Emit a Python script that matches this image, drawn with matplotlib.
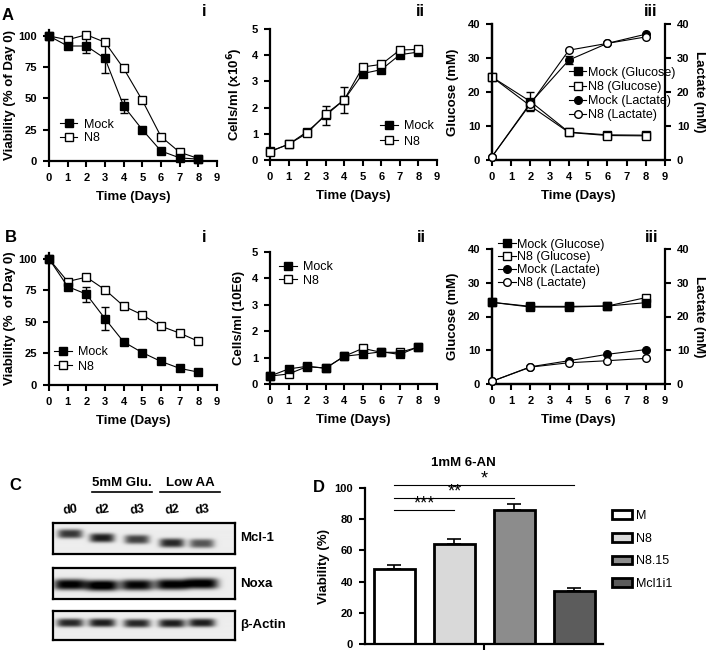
import numpy as np
import matplotlib
matplotlib.use("Agg")
import matplotlib.pyplot as plt
from matplotlib.lines import Line2D

plt.rcParams['font.family'] = ['Liberation Sans', 'DejaVu Sans']

W, H = 710, 652

# ---- data ----
days = [0, 1, 2, 3, 4, 5, 6, 7, 8]
days_met = [0, 2, 4, 6, 8]

# A i - viability
a_via_mock = [100, 92, 92, 82, 44, 25, 8, 2.5, 1.5]
a_via_mock_err = [0, 1.5, 6, 12, 5.5, 0, 0, 0, 0]
a_via_n8 = [100, 97, 101, 95, 74, 48.5, 19.5, 7, 2]
# A ii - cell density
a_cells_mock = [0.33, 0.6, 1.08, 1.7, 2.3, 3.3, 3.45, 4.02, 4.12]
a_cells_mock_err = [0, 0, 0, 0.35, 0.5, 0, 0, 0, 0]
a_cells_n8 = [0.32, 0.6, 1.02, 1.75, 2.3, 3.55, 3.65, 4.2, 4.22]
# A iii - metabolites
a_glc_mock = [24.4, 17.2, 8.2, 7.4, 7.3]
a_glc_mock_err = [0, 2.8, 0, 0, 0]
a_glc_n8 = [24.4, 15.9, 8.1, 7.2, 7.1]
a_lac_mock = [1, 16.8, 29.4, 34.3, 37]
a_lac_mock_err = [0, 0, 1.3, 0, 0]
a_lac_n8 = [1, 16.5, 32.3, 34.3, 36.2]

# B i
b_via_mock = [100, 78, 72, 52.5, 34, 25.5, 18.5, 13, 10]
b_via_mock_err = [0, 1, 6, 9, 2.5, 0, 0, 0, 0]
b_via_n8 = [100, 82, 85.5, 75.5, 62.5, 55.5, 46.5, 41, 34.5]
b_via_n8_err = [0, 0, 0, 1.5, 1, 1, 0, 0, 2]
# B ii
b_cells_mock = [0.3, 0.57, 0.67, 0.6, 1.05, 1.13, 1.22, 1.12, 1.41]
b_cells_n8 = [0.3, 0.38, 0.66, 0.6, 1.05, 1.35, 1.2, 1.2, 1.4]
# B iii
b_glc_mock = [24.2, 22.8, 22.8, 23.1, 24.1]
b_glc_n8 = [24.2, 23.0, 23.0, 23.1, 25.6]
b_lac_mock = [0.8, 5.1, 6.9, 8.8, 10.2]
b_lac_n8 = [0.8, 5.0, 6.3, 6.9, 7.6]

# C - western blot band intensities per lane
blot_lanes = ['d0', 'd2', 'd3', 'd2', 'd3']
blot_groups = ['5mM Glu.', 'Low AA']
blot_proteins = ['Mcl-1', 'Noxa', 'β-Actin']
mcl1_band = [0.72, 0.82, 0.68, 0.78, 0.6]
noxa_band = [0.95, 1.0, 0.92, 0.95, 0.97]
actin_band = [0.78, 0.82, 0.78, 0.82, 0.82]

# D - 1mM 6-AN
d_groups = ['M', 'N8', 'N8.15', 'Mcl1i1']
d_via = [48, 64, 86, 34]
d_err = [2.5, 3.5, 3.5, 2]
d_sig = ['***', '**', '*']
d_sig_y = [85.7, 93.6, 102]

fig = plt.figure(figsize=(W / 100, H / 100), dpi=100)


def fx(x):
    return x / W


def fy(y):
    return 1 - y / H


def add_ax(x0, y0, x1, y1):
    return fig.add_axes([fx(x0), fy(y1), (x1 - x0) / W, (y1 - y0) / H])


def bold_ticks(ax):
    for lbl in ax.get_xticklabels() + ax.get_yticklabels():
        lbl.set_fontweight('bold')


def style(ax, right=False):
    ax.spines['top'].set_visible(False)
    ax.spines['right'].set_visible(right)
    for s in ax.spines.values():
        s.set_linewidth(1.6)
    ax.tick_params(direction='out', length=4.5, width=1.5, labelsize=8, pad=4)
    ax.set_xlim(0, 9)
    ax.set_xticks(range(10))
    ax.set_xlabel('Time (Days)', fontsize=9.5, fontweight='bold', labelpad=6)


def series(ax, x, y, marker, filled, err=None):
    if err is not None:
        ax.errorbar(x, y, yerr=err, fmt='none', ecolor='k', elinewidth=1,
                    capsize=3, capthick=1, clip_on=False, zorder=2)
    return ax.plot(x, y, '-', color='k', lw=0.8, marker=marker, ms=5.5,
                   mfc='k' if filled else 'white', mec='k', mew=1,
                   clip_on=False, zorder=3)[0]


def legend(ax, handles, labels, x, y, spacing):
    ax.legend(handles, labels, loc='center left', bbox_to_anchor=(x, y),
              frameon=False, fontsize=9, handlelength=1.4, handletextpad=0.5,
              labelspacing=spacing, borderpad=0, borderaxespad=0)


# ---- A i ----
ax = add_ax(49, 29.75, 217, 161)
style(ax)
h2 = series(ax, days, a_via_n8, 's', False)
h1 = series(ax, days, a_via_mock, 's', True, a_via_mock_err)
ax.set_ylim(0, 105)
ax.set_yticks([0, 25, 50, 75, 100])
ax.set_ylabel('Viability (% of Day 0)', fontsize=9.5, fontweight='bold', labelpad=2)
legend(ax, [h1, h2], ['Mock', 'N8'], 0.065, 0.225, 0.1)
bold_ticks(ax)

# ---- A ii ----
ax = add_ax(270, 29, 437, 160)
style(ax)
h1 = series(ax, days, a_cells_mock, 's', True, a_cells_mock_err)
h2 = series(ax, days, a_cells_n8, 's', False)
ax.set_ylim(0, 5)
ax.set_yticks(range(6))
ax.set_ylabel(r'Cells/ml (x10$^{\mathbf{6}}$)', fontsize=9.5, fontweight='bold', labelpad=5)
legend(ax, [h1, h2], ['Mock', 'N8'], 0.66, 0.2, 0.3)
bold_ticks(ax)

# ---- A iii ----
ax = add_ax(492, 24, 665, 160)
style(ax)
ax2 = ax.twinx()
ax2.spines['top'].set_visible(False)
for s in ax2.spines.values():
    s.set_linewidth(1.6)
ax2.tick_params(direction='out', length=4.5, width=1.5, labelsize=8, pad=4)
h1 = series(ax, days_met, a_glc_mock, 's', True, a_glc_mock_err)
h2 = series(ax, days_met, a_glc_n8, 's', False)
h3 = series(ax2, days_met, a_lac_mock, 'o', True, a_lac_mock_err)
h4 = series(ax2, days_met, a_lac_n8, 'o', False)
for a in (ax, ax2):
    a.set_ylim(0, 40)
    a.set_yticks(range(0, 41, 10))
ax.set_ylabel('Glucose (mM)', fontsize=9.5, fontweight='bold', labelpad=6)
ax2.set_ylabel('Lactate (mM)', fontsize=9.5, fontweight='bold', labelpad=3,
               rotation=270, va='bottom')
ax2.legend([h1, h2, h3, h4], ['Mock (Glucose)', 'N8 (Glucose)', 'Mock (Lactate)', 'N8 (Lactate)'],
           loc='center left', bbox_to_anchor=(0.445, 0.485), frameon=False, fontsize=9,
           handlelength=1.4, handletextpad=0.1, labelspacing=0.18, borderpad=0,
           borderaxespad=0)
bold_ticks(ax)
bold_ticks(ax2)

# ---- B i ----
ax = add_ax(49, 252.6, 217, 384.7)
style(ax)
h2 = series(ax, days, b_via_n8, 's', False, b_via_n8_err)
h1 = series(ax, days, b_via_mock, 's', True, b_via_mock_err)
ax.set_ylim(0, 105)
ax.set_yticks([0, 25, 50, 75, 100])
ax.set_ylabel('Viability (%  of Day 0)', fontsize=9.5, fontweight='bold', labelpad=2)
legend(ax, [h1, h2], ['Mock', 'N8'], 0.03, 0.19, 0.2)
bold_ticks(ax)

# ---- B ii ----
ax = add_ax(270, 252, 437, 384)
style(ax)
h2 = series(ax, days, b_cells_n8, 's', False)
h1 = series(ax, days, b_cells_mock, 's', True)
ax.set_ylim(0, 5)
ax.set_yticks(range(6))
ax.set_ylabel('Cells/ml (10E6)', fontsize=9.5, fontweight='bold', labelpad=5)
legend(ax, [h1, h2], ['Mock', 'N8'], 0.054, 0.833, 0.1)
bold_ticks(ax)

# ---- B iii ----
ax = add_ax(492, 249, 665, 384)
style(ax)
ax2 = ax.twinx()
ax2.spines['top'].set_visible(False)
for s in ax2.spines.values():
    s.set_linewidth(1.6)
ax2.tick_params(direction='out', length=4.5, width=1.5, labelsize=8, pad=4)
h2 = series(ax, days_met, b_glc_n8, 's', False)
h1 = series(ax, days_met, b_glc_mock, 's', True)
h3 = series(ax2, days_met, b_lac_mock, 'o', True)
h4 = series(ax2, days_met, b_lac_n8, 'o', False)
for a in (ax, ax2):
    a.set_ylim(0, 40)
    a.set_yticks(range(0, 41, 10))
ax.set_ylabel('Glucose (mM)', fontsize=9.5, fontweight='bold', labelpad=6)
ax2.set_ylabel('Lactate (mM)', fontsize=9.5, fontweight='bold', labelpad=3,
               rotation=270, va='bottom')
ax2.legend([h1, h2, h3, h4], ['Mock (Glucose)', 'N8 (Glucose)', 'Mock (Lactate)', 'N8 (Lactate)'],
           loc='center left', bbox_to_anchor=(0.035, 0.89), frameon=False, fontsize=9,
           handlelength=1.4, handletextpad=0.1, labelspacing=0.07, borderpad=0,
           borderaxespad=0)
bold_ticks(ax)
bold_ticks(ax2)

# ---- panel labels ----
for txt, x, y, size in [('A', 8, 15, 12), ('B', 11, 238, 12), ('C', 15, 485, 12),
                        ('i', 204, 12, 12), ('ii', 420, 12, 12), ('iii', 651, 12, 12),
                        ('i', 204, 237, 12), ('ii', 421, 237, 12), ('iii', 652, 237, 12)]:
    fig.text(fx(x), fy(y), txt, fontsize=size, fontweight='bold', ha='center', va='center')

# ---- C blot ----
lane_x = [17, 49, 84, 119, 149]
boxes = [(522.7, 554, mcl1_band, [11.5, 15.5, 17, 20.5, 21], 12.5, 4.5),
         (568.3, 599.3, noxa_band, [16.5, 17.5, 17, 16.5, 15.5], 16.5, 5.5),
         (610.7, 640, actin_band, [12.5, 12.5, 13, 13, 12.5], 13.5, 4.2)]
for (top, bot, band, yc, hw, hh), name in zip(boxes, blot_proteins):
    bw, bh = 182, bot - top
    xs = np.linspace(0, bw, 364)
    ys = np.linspace(0, bh, int(bh * 4))
    X, Y = np.meshgrid(xs, ys)
    img = np.full(X.shape, 0.07)
    for xc, y0, val in zip(lane_x, yc, band):
        img += val * np.exp(-np.abs((X - xc) / hw) ** 4) * np.exp(-np.abs((Y - y0) / hh) ** 3)
    ax = add_ax(53, top, 235, bot)
    ax.imshow(np.clip(img, 0, 1), cmap='gray_r', vmin=0, vmax=1, aspect='auto',
              extent=(0, bw, bh, 0), interpolation='bilinear')
    ax.set_xticks([])
    ax.set_yticks([])
    for s in ax.spines.values():
        s.set_linewidth(1.6)
    fig.text(fx(240), fy((top + bot) / 2), name, fontsize=9.5, fontweight='bold', va='center')

for lbl, x in zip(blot_lanes, [70, 102, 137, 172, 202]):
    fig.text(fx(x), fy(510), lbl, fontsize=9, fontweight='bold', ha='center', va='center',
             rotation=8)
for lbl, x0, x1 in zip(blot_groups, [92, 160], [152, 220]):
    fig.text(fx((x0 + x1) / 2), fy(483), lbl, fontsize=9.5, fontweight='bold', ha='center',
             va='center')
    fig.add_artist(Line2D([fx(x0), fx(x1)], [fy(492), fy(492)], color='k', lw=1.2))

# ---- D bars ----
ax = add_ax(365, 488, 603, 644)
d_colors = ['white', '#d9d9d9', '#8c8c8c', '#5c5c5c']
x = np.arange(len(d_groups))
bars = ax.bar(x, d_via, width=0.67, color=d_colors, edgecolor='k', linewidth=2,
              label=d_groups, zorder=2)
ax.errorbar(x, d_via, yerr=[[0] * 4, d_err], fmt='none', ecolor='k', elinewidth=1.2,
            capsize=5, capthick=1.2, zorder=1)
ax.set_xlim(-0.49, 3.475)
ax.set_ylim(0, 100)
ax.set_yticks(range(0, 101, 20))
ax.set_xticks([1.5])
ax.set_xticklabels([''])
ax.spines['top'].set_visible(False)
ax.spines['right'].set_visible(False)
for s in ax.spines.values():
    s.set_linewidth(1.6)
ax.tick_params(direction='out', length=4.5, width=1.5, labelsize=8, pad=4)
ax.set_ylabel('Viability (%)', fontsize=9.5, fontweight='bold', labelpad=3)
bold_ticks(ax)
for k, (stars, yy) in enumerate(zip(d_sig, d_sig_y), start=1):
    ax.plot([0, k], [yy, yy], color='k', lw=0.8, clip_on=False)
    ax.text(k / 2, yy - 1.5, stars, ha='center', va='bottom', fontsize=13)
fig.text(fx(463), fy(463), '1mM 6-AN', fontsize=9.5, fontweight='bold', ha='center',
         va='center')
fig.text(fx(319), fy(487), 'D', fontsize=12, fontweight='bold', ha='center', va='center')
fig.legend(handles=bars, labels=d_groups, loc='upper left',
           bbox_to_anchor=(fx(612), fy(510)), frameon=False, fontsize=9,
           handlelength=1.6, handleheight=0.7, handletextpad=0.3, labelspacing=0.85,
           borderpad=0, borderaxespad=0)

fig.savefig('out.png', dpi=100)
